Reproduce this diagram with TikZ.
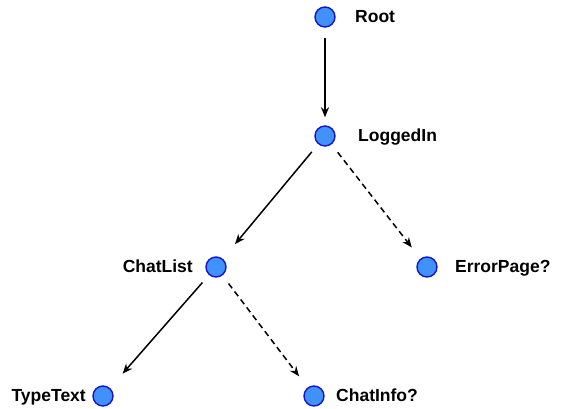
\documentclass[tikz,border=0pt]{standalone}
\usepackage{fontspec}
\setmainfont{Liberation Sans}
\usetikzlibrary{arrows.meta}
\definecolor{dotfill}{RGB}{64,145,250}
\definecolor{dotline}{RGB}{20,20,200}
\newcommand{\dotsize}{10pt}

\begin{document}
\begin{tikzpicture}[x=1pt,y=1pt,
    screendot/.style={draw=dotline, fill=dotfill, line width=1.4pt, circle, minimum size=2*\dotsize, inner sep=0pt},
    screenname/.style={inner sep=0pt, font=\fontsize{17.5}{20}\selectfont\bfseries},
    link/.style={line width=1.5pt, -{Stealth[length=10pt,width=8pt]}, shorten <=10pt},
    maybe/.style={link, dash pattern=on 6pt off 4pt}]
      \useasboundingbox (0,0) rectangle (563,408);
      %% the screens as dots, names beside them
      \node (root) at (325,391) [screendot] {};
      \node (logged) at (325,272) [screendot] {};
      \node (chats) at (216,141) [screendot] {};
      \node (error) at (427,141) [screendot] {};
      \node (type) at (103,12) [screendot] {};
      \node (info) at (314,12) [screendot] {};
      \node (rootname) at (355,385.5) [screenname, anchor=base west] {Root};
      \node (loggedname) at (358,266.5) [screenname, anchor=base west] {LoggedIn};
      \node (chatsname) at (193,135.5) [screenname, anchor=base east] {ChatList};
      \node (errorname) at (455,135.5) [screenname, anchor=base west] {ErrorPage?};
      \node (typename) at (86,6.5) [screenname, anchor=base east] {TypeText};
      \node (infoname) at (336,6.5) [screenname, anchor=base west] {ChatInfo?};
      \draw[link, shorten >=8pt] (root) to (logged);
      \draw[link, shorten >=19pt] (logged) to (chats);
      \draw[maybe, shorten >=14pt] (logged) to (error);
      \draw[link, shorten >=19pt] (chats) to (type);
      \draw[maybe, shorten >=14pt] (chats) to (info);
\end{tikzpicture}
\end{document}
